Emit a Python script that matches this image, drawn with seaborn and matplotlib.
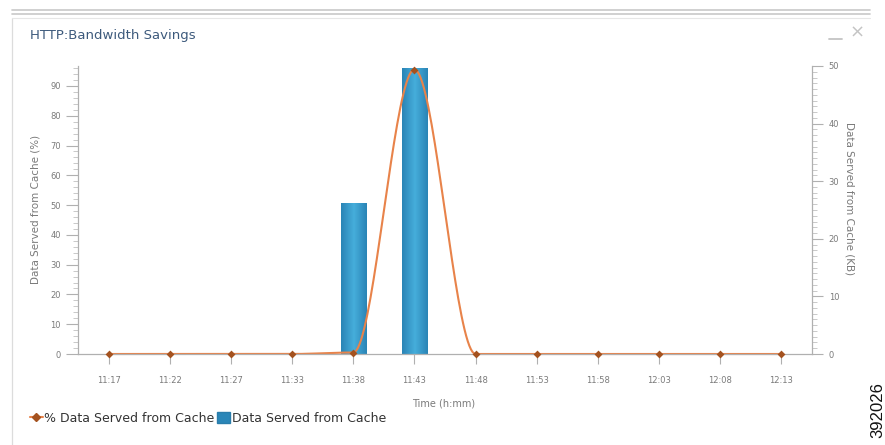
import numpy as np
import pandas as pd
import matplotlib
matplotlib.use("Agg")
import matplotlib.pyplot as plt
import seaborn as sns
from matplotlib.lines import Line2D
from matplotlib.patches import Patch
from matplotlib.colors import LinearSegmentedColormap
from matplotlib.ticker import MultipleLocator

# data
times = ["11:17", "11:22", "11:27", "11:33", "11:38", "11:43",
         "11:48", "11:53", "11:58", "12:03", "12:08", "12:13"]
pct_served = [0, 0, 0, 0, 0.5, 95.5, 0, 0, 0, 0, 0, 0]      # % Data Served from Cache
kb_served = [0, 0, 0, 0, 26.2, 49.6, 0, 0, 0, 0, 0, 0]      # Data Served from Cache (KB)

sns.set_theme(style="white")
plt.rcParams['font.family'] = ['DejaVu Sans']

line_col = "#e8834a"
mark_col = "#a4521f"
bar_col = "#3196c8"
grey = "#7a7a7a"

df = pd.DataFrame({"time": times, "pct": pct_served, "kb": kb_served})

fig = plt.figure(figsize=(8.85, 4.45), dpi=100)
W, H = 885, 445
ax = fig.add_axes([78 / W, 91 / H, 734 / W, 288 / H])
ax2 = ax.twinx()

# bars (KB) on the right axis
sns.barplot(data=df, x="time", y="kb", ax=ax2, width=0.41, color=bar_col,
            saturation=1, edgecolor="#2a7dab", linewidth=0.6)

# horizontal gradient inside each bar
cmap = LinearSegmentedColormap.from_list("bar", ["#2a84b6", "#46aedb", "#2a84b6"])
grad = np.linspace(0, 1, 64).reshape(1, -1)
for p in list(ax2.patches):
    if p.get_height() <= 0:
        continue
    x0, y0 = p.get_x(), p.get_y()
    im = ax2.imshow(grad, extent=[x0, x0 + p.get_width(), y0, y0 + p.get_height()],
                    aspect="auto", cmap=cmap, zorder=p.get_zorder() + 0.1)
    im.set_clip_path(p)

# smoothed % line on the left axis
xi = np.arange(len(times))
t = np.linspace(0, 1, 40)
s = 3 * t ** 2 - 2 * t ** 3
xs = np.concatenate([xi[i] + t for i in range(len(xi) - 1)])
ys = np.concatenate([pct_served[i] + (pct_served[i + 1] - pct_served[i]) * s
                     for i in range(len(xi) - 1)])
sns.lineplot(x=xs, y=ys, ax=ax, color=line_col, lw=1.5, sort=False,
             estimator=None, clip_on=False)
sns.scatterplot(x=xi, y=pct_served, ax=ax, marker="D", s=16, color=mark_col,
                edgecolor=mark_col, linewidth=0, zorder=5, clip_on=False)

# line axis sits above the bars
ax.set_zorder(ax2.get_zorder() + 1)
ax.patch.set_visible(False)

ax.set_xlim(-0.5, len(times) - 0.5)
ax.set_xticks(xi)
ax.set_xticklabels(times)
ax.set_ylim(0, 96.7)
ax2.set_ylim(0, 50)
ax.yaxis.set_major_locator(MultipleLocator(10))
ax.yaxis.set_minor_locator(MultipleLocator(2))
ax2.yaxis.set_major_locator(MultipleLocator(10))
ax2.yaxis.set_minor_locator(MultipleLocator(1))

for a in (ax, ax2):
    for sp in a.spines.values():
        sp.set_visible(False)
ax.spines["left"].set_visible(True)
ax.spines["bottom"].set_visible(True)
ax2.spines["right"].set_visible(True)
for sp in (ax.spines["left"], ax.spines["bottom"], ax2.spines["right"]):
    sp.set_color("#b0b0b0")
    sp.set_linewidth(0.9)

ax.tick_params(axis="x", which="major", bottom=True, length=7.5, width=0.8,
               color="#b0b0b0", labelsize=6, labelcolor=grey, pad=8)
ax.tick_params(axis="y", which="major", left=True, length=8.5, width=0.8,
               color="#b0b0b0", labelsize=6, labelcolor=grey, pad=4)
ax.tick_params(axis="y", which="minor", left=True, length=3.5, width=0.6,
               color="#c0c0c0")
ax2.tick_params(axis="y", which="major", right=True, length=8, width=0.8,
                color="#b0b0b0", labelsize=6, labelcolor=grey, pad=4)
ax2.tick_params(axis="y", which="minor", right=True, length=3.5, width=0.6,
                color="#c0c0c0")
ax2.tick_params(axis="x", bottom=False, labelbottom=False)

ax.set_xlabel("Time (h:mm)", fontsize=7, color=grey, va="center", ha="center")
ax.xaxis.set_label_coords((444 - 78) / 734, (354 - 403) / 288)
ax.set_ylabel("Data Served from Cache (%)", fontsize=7.5, color=grey,
              va="center", ha="center")
ax.yaxis.set_label_coords((35 - 78) / 734, (354 - 209) / 288)
ax2.set_ylabel("Data Served from Cache (KB)", fontsize=7.5, color=grey,
               rotation=270, va="center", ha="center")
ax2.yaxis.set_label_coords((850 - 78) / 734, (354 - 199) / 288)

# panel decoration: double rule on top, faint left border
for yy in (10, 13.5):
    fig.add_artist(Line2D([12 / W, 870 / W], [1 - yy / H, 1 - yy / H],
                          color="#c8c8c8", lw=1.2, transform=fig.transFigure))
fig.add_artist(Line2D([12 / W, 12 / W], [0, 1 - 18 / H], color="#dcdcdc",
                      lw=0.9, transform=fig.transFigure))
fig.add_artist(Line2D([12 / W, 870 / W], [1 - 18 / H, 1 - 18 / H],
                      color="#e6e6e6", lw=0.8, transform=fig.transFigure))
fig.text(30 / W, 1 - 36 / H, "HTTP:Bandwidth Savings", fontsize=9.5,
         color="#3d5a7c", va="center", ha="left")
fig.add_artist(Line2D([829 / W, 842 / W], [1 - 39 / H, 1 - 39 / H],
                      color="#c4c4c4", lw=1.3, transform=fig.transFigure))
fig.text(857 / W, 1 - 33 / H, "\u00d7", fontsize=13, color="#c4c4c4",
         va="center", ha="center")
fig.text(878 / W, 1 - 410 / H, "392026", fontsize=12, rotation=90,
         family=["Liberation Sans", "DejaVu Sans"], color="#111111",
         va="center", ha="center")

handles = [Line2D([0], [0], color=line_col, lw=1.5, marker="D", markersize=4.5,
                  markerfacecolor=mark_col, markeredgecolor=mark_col),
           Patch(facecolor="#2a86b8", edgecolor="#2a7dab")]
fig.legend(handles, ["% Data Served from Cache", "Data Served from Cache"],
           loc="center left", bbox_to_anchor=(30 / W, 1 - 418 / H), ncol=2,
           frameon=False, fontsize=9, handlelength=1.0, handleheight=1.0,
           handletextpad=0.15, columnspacing=0.2, borderpad=0,
           borderaxespad=0, labelcolor="#333333")

fig.savefig("out.png", dpi=100)
